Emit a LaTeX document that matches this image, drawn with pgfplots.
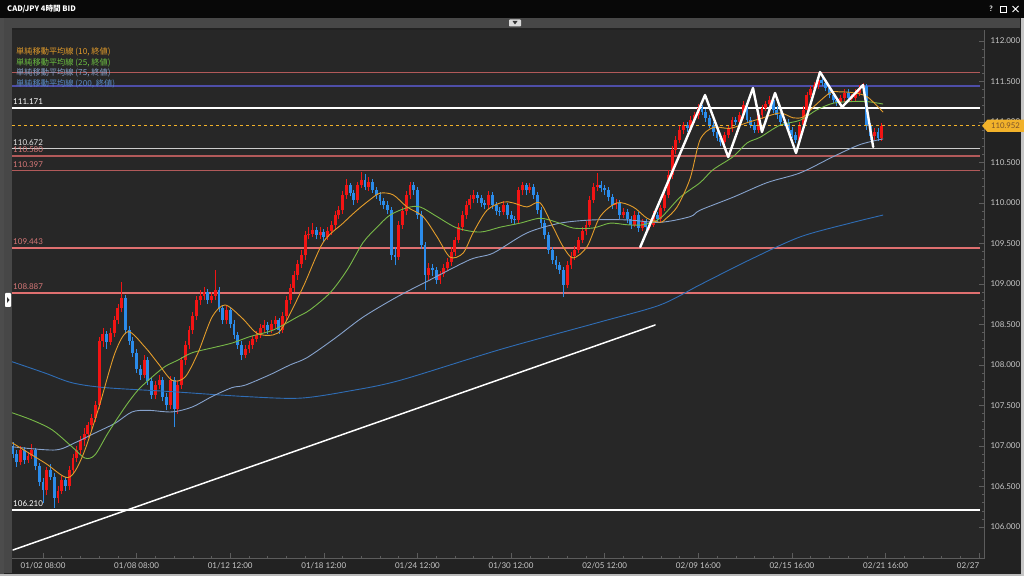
\documentclass[border=0pt]{standalone}
\usepackage{pgfplots}
\pgfplotsset{compat=1.18}
\usepackage{pgfplotstable}
\usepackage{fontspec}
\setmainfont{Lato}
\newfontfamily\cjk{Noto Sans CJK JP}
\definecolor{outerbg}{HTML}{222222}
\definecolor{plotbg}{HTML}{272727}
\definecolor{titlebg}{HTML}{080808}
\definecolor{stripbg}{HTML}{474747}
\definecolor{axgray}{HTML}{5C5C5C}
\definecolor{ticktext}{HTML}{C8C8C8}
\definecolor{cred}{HTML}{F21414}
\definecolor{cblue}{HTML}{2B8CEB}
\definecolor{maA}{HTML}{E39C2A}
\definecolor{maB}{HTML}{78B948}
\definecolor{maC}{HTML}{86A2CC}
\definecolor{maD}{HTML}{2F6DB5}
\definecolor{srA}{HTML}{E07070}
\definecolor{srB}{HTML}{B25A5A}
\definecolor{srP}{HTML}{4E4EA8}
\definecolor{srLab}{HTML}{D87878}
\definecolor{tagor}{HTML}{F2B22A}

\pgfplotstableread{
i o h l c
-8 107.00 107.05 106.85 106.90
-7 106.90 106.95 106.74 106.80
-6 106.80 107.00 106.76 106.95
-5 106.95 106.99 106.78 106.83
-4 106.83 106.93 106.79 106.88
-3 106.88 107.02 106.84 106.95
-2 106.95 106.98 106.70 106.75
-1 106.75 106.79 106.50 106.55
0 106.55 106.60 106.29 106.46
1 106.46 106.74 106.40 106.70
2 106.70 106.78 106.58 106.62
3 106.62 106.66 106.24 106.36
4 106.36 106.50 106.30 106.45
5 106.45 106.63 106.41 106.58
6 106.58 106.62 106.44 106.50
7 106.50 106.75 106.46 106.70
8 106.70 106.90 106.65 106.85
9 106.85 107.00 106.80 106.95
10 106.95 107.12 106.90 107.07
11 107.07 107.22 107.00 107.15
12 107.15 107.30 107.10 107.26
13 107.26 107.40 107.20 107.35
14 107.35 107.55 107.30 107.50
15 107.50 108.35 107.46 108.30
16 108.30 108.45 108.22 108.38
17 108.38 108.42 108.20 108.28
18 108.28 108.45 108.24 108.40
19 108.40 108.60 108.35 108.55
20 108.55 108.75 108.50 108.70
21 108.70 109.02 108.65 108.83
22 108.83 108.86 108.38 108.43
23 108.43 108.48 108.25 108.30
24 108.30 108.35 108.10 108.15
25 108.15 108.20 107.90 107.95
26 107.95 108.00 107.82 107.88
27 107.88 108.12 107.84 108.06
28 108.06 108.10 107.75 107.80
29 107.80 107.85 107.58 107.63
30 107.63 107.80 107.58 107.75
31 107.75 107.88 107.70 107.81
32 107.81 107.85 107.55 107.60
33 107.60 107.65 107.44 107.50
34 107.50 107.86 107.46 107.81
35 107.81 107.85 107.23 107.45
36 107.45 107.80 107.40 107.75
37 107.75 108.10 107.70 108.06
38 108.06 108.30 108.00 108.25
39 108.25 108.48 108.20 108.43
40 108.43 108.65 108.38 108.60
41 108.60 108.85 108.55 108.80
42 108.80 108.92 108.74 108.85
43 108.85 108.96 108.80 108.90
44 108.90 108.94 108.75 108.80
45 108.80 108.90 108.76 108.85
46 108.85 109.17 108.80 108.92
47 108.92 108.96 108.65 108.70
48 108.70 108.74 108.50 108.55
49 108.55 108.73 108.50 108.68
50 108.68 108.72 108.45 108.50
51 108.50 108.55 108.32 108.37
52 108.37 108.41 108.20 108.25
53 108.25 108.30 108.06 108.12
54 108.12 108.25 108.08 108.20
55 108.20 108.30 108.15 108.25
56 108.25 108.36 108.20 108.32
57 108.32 108.42 108.28 108.37
58 108.37 108.50 108.33 108.45
59 108.45 108.55 108.40 108.49
60 108.49 108.53 108.38 108.43
61 108.43 108.55 108.39 108.50
62 108.50 108.60 108.45 108.55
63 108.55 108.58 108.38 108.43
64 108.43 108.65 108.40 108.60
65 108.60 108.85 108.55 108.80
66 108.80 109.00 108.75 108.95
67 108.95 109.16 108.90 109.11
68 109.11 109.30 109.05 109.25
69 109.25 109.42 109.20 109.36
70 109.36 109.65 109.30 109.60
71 109.60 109.70 109.55 109.62
72 109.62 109.75 109.58 109.66
73 109.66 109.70 109.55 109.60
74 109.60 109.70 109.56 109.64
75 109.64 109.68 109.52 109.58
76 109.58 109.70 109.54 109.65
77 109.65 109.78 109.60 109.73
78 109.73 109.90 109.68 109.85
79 109.85 109.96 109.80 109.91
80 109.91 110.15 109.86 110.10
81 110.10 110.30 110.05 110.22
82 110.22 110.25 110.08 110.12
83 110.12 110.16 109.98 110.04
84 110.04 110.26 110.00 110.22
85 110.22 110.38 110.18 110.28
86 110.28 110.36 110.16 110.20
87 110.20 110.32 110.15 110.26
88 110.26 110.30 110.12 110.16
89 110.16 110.20 110.05 110.10
90 110.10 110.14 109.98 110.02
91 110.02 110.06 109.92 109.97
92 109.97 110.02 109.86 109.91
93 109.91 109.95 109.30 109.36
94 109.36 109.45 109.23 109.33
95 109.33 109.78 109.30 109.73
96 109.73 109.95 109.68 109.90
97 109.90 110.15 109.85 110.10
98 110.10 110.26 110.05 110.22
99 110.22 110.26 110.10 110.16
100 110.16 110.20 109.80 109.85
101 109.85 109.90 109.43 109.48
102 109.48 109.52 108.92 109.11
103 109.11 109.26 109.05 109.20
104 109.20 109.24 109.10 109.17
105 109.17 109.21 109.00 109.05
106 109.05 109.16 109.00 109.12
107 109.12 109.25 109.08 109.20
108 109.20 109.32 109.16 109.27
109 109.27 109.45 109.22 109.40
110 109.40 109.58 109.35 109.54
111 109.54 109.75 109.50 109.70
112 109.70 109.90 109.65 109.85
113 109.85 110.02 109.80 109.97
114 109.97 110.10 109.92 110.05
115 110.05 110.16 110.00 110.10
116 110.10 110.14 110.00 110.06
117 110.06 110.10 109.95 110.00
118 110.00 110.04 109.92 109.97
119 109.97 110.15 109.93 110.10
120 110.10 110.14 109.92 109.97
121 109.97 110.01 109.85 109.90
122 109.90 109.95 109.84 109.89
123 109.89 110.02 109.85 109.97
124 109.97 110.00 109.80 109.85
125 109.85 109.90 109.75 109.80
126 109.80 109.84 109.74 109.79
127 109.79 110.20 109.75 110.16
128 110.16 110.26 110.10 110.22
129 110.22 110.25 110.10 110.16
130 110.16 110.24 110.12 110.20
131 110.20 110.23 110.05 110.10
132 110.10 110.14 109.86 109.91
133 109.91 109.95 109.70 109.75
134 109.75 109.79 109.55 109.60
135 109.60 109.64 109.37 109.42
136 109.42 109.46 109.25 109.30
137 109.30 109.34 109.18 109.23
138 109.23 109.27 109.12 109.17
139 109.17 109.21 108.84 108.99
140 108.99 109.28 108.95 109.23
141 109.23 109.40 109.19 109.35
142 109.35 109.47 109.30 109.42
143 109.42 109.58 109.38 109.54
144 109.54 109.70 109.50 109.65
145 109.65 109.78 109.60 109.73
146 109.73 110.08 109.70 110.04
147 110.04 110.25 110.00 110.20
148 110.20 110.37 110.15 110.22
149 110.22 110.27 110.13 110.18
150 110.18 110.22 110.10 110.16
151 110.16 110.20 110.02 110.07
152 110.07 110.11 109.92 109.97
153 109.97 110.05 109.93 110.00
154 110.00 110.04 109.80 109.85
155 109.85 109.94 109.81 109.89
156 109.89 109.93 109.75 109.80
157 109.80 109.84 109.68 109.73
158 109.73 109.90 109.70 109.85
159 109.85 109.89 109.64 109.69
160 109.69 109.80 109.65 109.76
161 109.76 109.80 109.65 109.70
162 109.70 109.78 109.66 109.73
163 109.73 109.90 109.70 109.85
164 109.85 109.89 109.75 109.80
165 109.80 109.98 109.76 109.94
166 109.94 110.15 109.90 110.10
167 110.10 110.40 110.06 110.34
168 110.34 110.70 110.30 110.65
169 110.65 110.83 110.60 110.78
170 110.78 110.95 110.74 110.90
171 110.90 111.00 110.85 110.96
172 110.96 111.00 110.88 110.92
173 110.92 111.07 110.88 111.02
174 111.02 111.12 110.98 111.08
175 111.08 111.22 111.04 111.17
176 111.17 111.21 111.08 111.12
177 111.12 111.16 111.00 111.05
178 111.05 111.09 110.92 110.96
179 110.96 111.00 110.83 110.87
180 110.87 110.91 110.76 110.80
181 110.80 110.84 110.70 110.75
182 110.75 110.88 110.72 110.84
183 110.84 110.96 110.80 110.92
184 110.92 111.06 110.88 111.02
185 111.02 111.06 110.96 111.00
186 111.00 111.12 110.96 111.08
187 111.08 111.26 111.04 111.21
188 111.21 111.25 110.98 111.02
189 111.02 111.06 110.92 110.96
190 110.96 111.00 110.86 110.90
191 110.90 111.12 110.86 111.08
192 111.08 111.21 111.04 111.17
193 111.17 111.26 111.13 111.22
194 111.22 111.32 111.18 111.27
195 111.27 111.31 111.11 111.15
196 111.15 111.19 111.04 111.08
197 111.08 111.12 110.96 111.00
198 111.00 111.04 110.95 110.99
199 110.99 111.03 110.86 110.90
200 110.90 110.94 110.80 110.84
201 110.84 110.88 110.74 110.78
202 110.78 111.00 110.74 110.96
203 110.96 111.19 110.92 111.15
204 111.15 111.37 111.11 111.33
205 111.33 111.44 111.29 111.40
206 111.40 111.49 111.36 111.45
207 111.45 111.56 111.41 111.52
208 111.52 111.55 111.44 111.48
209 111.48 111.52 111.38 111.42
210 111.42 111.46 111.29 111.33
211 111.33 111.37 111.23 111.27
212 111.27 111.31 111.20 111.24
213 111.24 111.33 111.20 111.29
214 111.29 111.40 111.25 111.36
215 111.36 111.40 111.25 111.29
216 111.29 111.34 111.25 111.30
217 111.30 111.40 111.26 111.36
218 111.36 111.46 111.32 111.42
219 111.42 111.48 111.38 111.44
220 111.44 111.47 110.90 110.95
221 110.95 110.99 110.78 110.82
222 110.82 110.92 110.78 110.88
223 110.88 110.92 110.76 110.80
224 110.80 110.99 110.76 110.95
}\candles

\begin{document}
\begin{tikzpicture}[x=1pt,y=1pt]
\useasboundingbox (0,0) rectangle (1024,576);
% window chrome
\fill[outerbg] (0,0) rectangle (1024,576);
\fill[titlebg] (0,558) rectangle (1024,576);
\fill[stripbg] (4,548) rectangle (1020,558);
\fill[stripbg] (4,3) rectangle (12,548);
\fill[black!70] (0,0) rectangle (4,558);
\fill[gray!55] (0,0) rectangle (1024,2.5);
\fill[gray!45] (1020.5,0) rectangle (1024,558);
\node[anchor=west, text=white, inner sep=0pt, font=\cjk\bfseries\fontsize{7.6}{9}\selectfont] at (7,567) {CAD/JPY 4時間 BID};
\node[text=white, inner sep=0pt, font=\bfseries\fontsize{7.5}{9}\selectfont] at (991,567) {?};
\draw[white, line width=0.8pt] (1000.5,564) rectangle (1006.5,570);
\draw[white, line width=0.9pt] (1012.5,564) -- (1018.5,570) (1012.5,570) -- (1018.5,564);
\fill[white!85!black, rounded corners=0.8pt] (509,549.5) rectangle (521,556.5);
\fill[black!80] (512.5,555) -- (517.5,555) -- (515,551.5) -- cycle;
\fill[white, rounded corners=0.8pt] (5,269) rectangle (11,283);
\fill[black!80] (7,273) -- (7,279) -- (9.5,276) -- cycle;

\begin{axis}[
  at={(12pt,18pt)}, anchor=south west,
  scale only axis, width=972pt, height=528pt,
  xmin=-8.28, xmax=251.3, ymin=105.617, ymax=112.134,
  axis background/.style={fill=plotbg},
  axis line style={draw=none},
  xtick pos=bottom, ytick pos=right, yticklabel pos=right,
  tick align=inside,
  tick style={draw=axgray, line width=0.5pt},
  major tick length=5pt, minor tick length=2.5pt,
  xtick={0,25,...,250},
  xticklabels={01/02 08:00,01/08 08:00,01/12 12:00,01/18 12:00,01/24 12:00,01/30 12:00,02/05 12:00,02/09 16:00,02/15 16:00,02/21 16:00,\llap{02/27}},
  minor x tick num=4,
  ytick={106,106.5,...,112},
  minor y tick num=4,
  scaled y ticks=false,
  /pgf/number format/assume math mode=true,
  yticklabel style={/pgf/number format/fixed, /pgf/number format/fixed zerofill, /pgf/number format/precision=3, /pgf/number format/1000 sep={}, xshift=3pt},
  ticklabel style={font=\fontsize{8}{9}\selectfont, text=ticktext},
  xticklabel style={yshift=-1pt},
]
% support / resistance lines
\addplot[srB, line width=1.3pt] coordinates {(-8.28,111.610) (250.3,111.610)};
\addplot[srP, line width=1.4pt] coordinates {(-8.28,111.443) (250.3,111.443)};
\addplot[white, line width=2.4pt] coordinates {(-8.28,111.171) (250.3,111.171)};
\addplot[white!80!black, line width=1.3pt] coordinates {(-8.28,110.672) (250.3,110.672)};
\addplot[srB, line width=1.3pt] coordinates {(-8.28,110.580) (250.3,110.580)};
\addplot[srB, line width=1.5pt] coordinates {(-8.28,110.397) (250.3,110.397)};
\addplot[srA, line width=1.8pt] coordinates {(-8.28,109.443) (250.3,109.443)};
\addplot[srA, line width=1.8pt] coordinates {(-8.28,108.887) (250.3,108.887)};
\addplot[white, line width=1.8pt] coordinates {(-8.28,106.210) (250.3,106.210)};
% candles
\addplot[cred, line width=0.75pt, -, quiver={u=0,v=\thisrow{h}-\thisrow{l}}, restrict expr to domain={\thisrow{c}-\thisrow{o}}{0:20}] table[x=i,y=l] {\candles};
\addplot[cred, line width=2.9pt, -, quiver={u=0,v=\thisrow{c}-\thisrow{o}}, restrict expr to domain={\thisrow{c}-\thisrow{o}}{0:20}] table[x=i,y=o] {\candles};
\addplot[cblue, line width=0.75pt, -, quiver={u=0,v=\thisrow{h}-\thisrow{l}}, restrict expr to domain={\thisrow{c}-\thisrow{o}}{-20:0}] table[x=i,y=l] {\candles};
\addplot[cblue, line width=2.9pt, -, quiver={u=0,v=\thisrow{c}-\thisrow{o}}, restrict expr to domain={\thisrow{c}-\thisrow{o}}{-20:0}] table[x=i,y=o] {\candles};
% moving averages
\addplot[maD, line width=0.9pt, smooth, tension=0.5] coordinates {(-8.28,108.04) (0.53,107.90) (7.74,107.78) (16.56,107.72) (34.45,107.67) (53.95,107.61) (68.64,107.59) (82.0,107.68) (95.35,107.81) (122.06,108.19) (148.77,108.53) (164.80,108.74) (175.48,108.99) (188.84,109.30) (202.18,109.58) (215.53,109.75) (224.36,109.85)};
\addplot[maC, line width=0.9pt, smooth, tension=0.5] coordinates {(-8.28,106.99) (3.20,106.95) (8.54,107.04) (13.89,107.16) (19.23,107.28) (23.77,107.42) (28.04,107.44) (34.45,107.42) (39.80,107.48) (45.14,107.61) (50.48,107.72) (53.95,107.75) (60.63,107.88) (65.97,108.00) (70.51,108.09) (77.99,108.33) (85.47,108.59) (94.55,108.84) (103.36,109.05) (114.04,109.30) (120.19,109.38) (129.27,109.63) (138.09,109.75) (146.90,109.79) (155.98,109.79) (164.80,109.76) (172.81,109.83) (175.48,109.91) (184.29,110.07) (193.37,110.25) (202.18,110.37) (210.99,110.57) (218.20,110.72) (224.36,110.79)};
\addplot[maB, line width=0.9pt, smooth, tension=0.5] coordinates {(-8.28,107.41) (-2.94,107.32) (2.40,107.20) (7.74,106.99) (11.22,106.85) (13.89,106.89) (17.36,107.16) (21.90,107.48) (25.37,107.69) (29.11,107.85) (32.58,107.98) (36.06,108.06) (39.80,108.15) (45.14,108.21) (50.48,108.27) (55.29,108.35) (61.43,108.43) (67.84,108.59) (71.31,108.68) (76.66,108.89) (81.19,109.17) (85.47,109.51) (89.21,109.70) (92.68,109.85) (97.22,109.94) (100.69,109.95) (105.24,109.83) (110.58,109.69) (116.72,109.64) (122.06,109.70) (127.40,109.75) (132.75,109.81) (137.29,109.76) (141.56,109.69) (146.90,109.69) (151.44,109.75) (156.0,109.73) (160.26,109.73) (164.80,109.81) (170.14,110.07) (175.48,110.25) (178.95,110.41) (184.29,110.57) (188.03,110.74) (191.50,110.81) (196.84,110.96) (202.18,111.02) (206.72,111.15) (210.99,111.23) (215.53,111.25) (220.08,111.25) (224.36,111.22)};
\addplot[maA, line width=0.9pt, smooth, tension=0.5] coordinates {(-8.28,107.04) (0.53,106.79) (6.68,106.61) (10.42,106.86) (14.69,107.44) (19.23,108.15) (22.70,108.41) (27.24,108.22) (30.72,108.02) (34.45,107.81) (37.93,107.85) (41.40,108.15) (45.14,108.59) (48.61,108.74) (53.15,108.58) (57.16,108.39) (61.43,108.37) (64.10,108.47) (69.44,108.96) (74.78,109.51) (80.13,109.75) (83.87,109.91) (87.34,110.04) (90.01,110.12) (93.48,110.10) (97.22,109.95) (101.50,109.83) (105.24,109.58) (108.71,109.33) (112.18,109.38) (114.85,109.63) (118.59,109.91) (122.86,110.01) (125.53,110.00) (129.27,109.95) (132.75,110.00) (136.22,109.70) (138.89,109.46) (141.56,109.32) (145.30,109.46) (148.77,109.83) (153.31,110.00) (157.59,109.95) (161.33,109.81) (164.80,109.76) (166.2,109.80) (169.34,109.95) (172.81,110.30) (175.48,110.78) (178.95,110.93) (183.49,110.92) (188.03,110.99) (192.30,111.05) (196.84,111.11) (200.32,111.05) (202.99,111.06) (205.66,111.18) (210.20,111.36) (212.87,111.37) (216.34,111.36) (220.08,111.31) (224.36,111.12)};
% current price
\addplot[tagor, line width=0.8pt, dash pattern=on 3pt off 3pt] coordinates {(-8.28,110.952) (250.3,110.952)};
% drawn annotations
\addplot[white, line width=1.5pt, line cap=round] coordinates {(-8.01,105.716) (163.46,108.493)};
\addplot[white, line width=2.4pt, line join=round, line cap=round] coordinates {(159.5,109.456) (176.8,111.331) (183.0,110.566) (189.6,111.418) (192.0,110.875) (195.5,111.356) (201.1,110.616) (207.5,111.615) (213.4,111.183) (219.0,111.455) (221.7,110.690)};
% level labels
\tikzset{lvl/.style={anchor=base west, inner sep=0pt, yshift=3.2pt, font=\fontsize{8}{9}\selectfont}}
\node[lvl, text=white] at (axis cs:-8.0,111.171) {111.171};
\node[lvl, text=white!90!black] at (axis cs:-8.0,110.672) {110.672};
\node[lvl, text=srLab] at (axis cs:-8.0,110.580) {110.580};
\node[lvl, text=srLab] at (axis cs:-8.0,110.397) {110.397};
\node[lvl, text=srLab] at (axis cs:-8.0,109.443) {109.443};
\node[lvl, text=srLab] at (axis cs:-8.0,108.887) {108.887};
\node[lvl, text=white] at (axis cs:-8.0,106.210) {106.210};
\end{axis}
% axis lines (window decoration)
\draw[axgray, line width=0.6pt] (12,17.5) -- (984,17.5);
\draw[axgray, line width=0.6pt] (984,17.5) -- (984,546);
% legend text
\begin{scope}[every node/.style={anchor=west, inner sep=0pt, font=\cjk\fontsize{8.2}{9}\selectfont}]
\node[text=maA] at (16,524) {単純移動平均線 (10, 終値)};
\node[text=maB!90!green] at (16,513.5) {単純移動平均線 (25, 終値)};
\node[text=maC] at (16,503.5) {単純移動平均線 (75, 終値)};
\node[text=maD!80!white] at (16,492.5) {単純移動平均線 (200, 終値)};
\end{scope}
% price tag
\fill[tagor] (982,450.2) -- (987.5,456.4) -- (1024,456.4) -- (1024,444) -- (987.5,444) -- cycle;
\node[text=black!35!brown, inner sep=0pt, font=\fontsize{7.8}{9}\selectfont] at (1005.5,450.2) {110.952};
\end{tikzpicture}
\end{document}
